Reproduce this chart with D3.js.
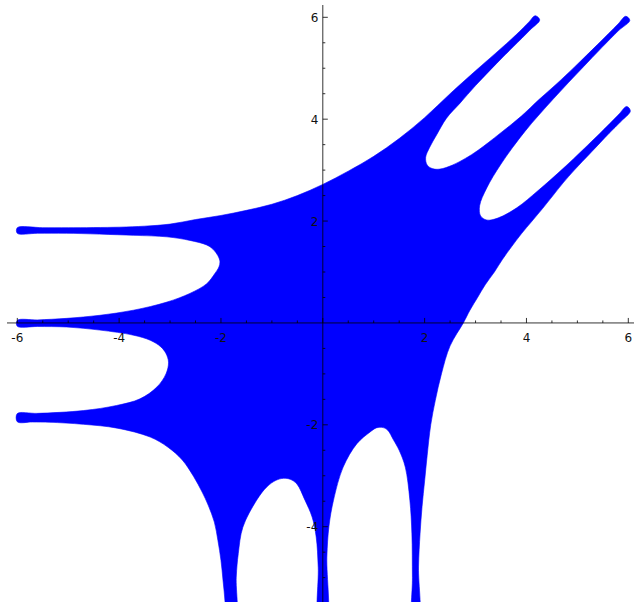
<!DOCTYPE html>
<html>
<head>
<meta charset="utf-8">
<script src="https://cdn.jsdelivr.net/npm/d3@7"></script>
<style>
  html, body { margin: 0; padding: 0; background: #ffffff; }
  svg { display: block; }
</style>
</head>
<body>
<svg id="chart" width="638" height="602"></svg>
<script>
// Tick labels on the two axes (0 is not labelled)
const xTickValues = [-6, -4, -2, 2, 4, 6];
const yTickValues = [-4, -2, 2, 4, 6];

// Outline of the filled region, piece by piece, going round it clockwise.
// Upper-left tentacle top -> upper diagonal tip
const topEdge = [
  [-6.00, 1.87], [-5.50, 1.87], [-5.00, 1.87], [-4.00, 1.88], [-3.50, 1.90],
  [-3.00, 1.94], [-2.50, 2.03], [-2.00, 2.11], [-1.50, 2.21], [-1.00, 2.33],
  [-0.50, 2.50], [0.00, 2.72], [0.50, 2.98], [1.00, 3.27], [1.50, 3.62],
  [2.00, 4.03], [2.50, 4.50], [3.00, 4.95], [3.40, 5.30], [3.80, 5.66],
  [4.05, 5.91], [4.17, 6.03]
];
// Gap between the upper and middle diagonal tentacles
const upperFork = [
  [4.26, 5.95], [4.07, 5.75], [3.74, 5.42], [3.42, 5.10], [3.00, 4.66],
  [2.70, 4.32], [2.43, 4.02], [2.24, 3.70], [2.10, 3.45], [2.02, 3.25],
  [2.05, 3.10], [2.15, 3.03], [2.30, 3.02], [2.55, 3.10], [2.80, 3.23],
  [3.05, 3.39], [3.48, 3.72], [3.90, 4.06], [4.24, 4.38], [4.60, 4.70],
  [4.95, 5.03], [5.40, 5.47], [5.80, 5.87], [5.95, 6.02]
];
// Gap between the middle and lower diagonal tentacles
const lowerFork = [
  [6.03, 5.94], [5.80, 5.73], [5.12, 5.03], [4.53, 4.40], [3.97, 3.76],
  [3.50, 3.12], [3.22, 2.65], [3.08, 2.30], [3.10, 2.10], [3.22, 2.02],
  [3.44, 2.06], [3.81, 2.26], [4.23, 2.60], [4.75, 3.06], [5.44, 3.72],
  [5.80, 4.08], [5.97, 4.25]
];
// Lower diagonal tip -> right vertical tentacle
const rightEdge = [
  [6.04, 4.16], [5.85, 3.95], [5.62, 3.72], [5.28, 3.36], [4.94, 3.00],
  [4.72, 2.75], [4.52, 2.50], [4.32, 2.25], [4.11, 2.00], [3.90, 1.75],
  [3.71, 1.50], [3.53, 1.25], [3.37, 1.00], [3.19, 0.75], [3.04, 0.50],
  [2.89, 0.25], [2.76, 0.00], [2.50, -0.45], [2.33, -1.00], [2.21, -1.52],
  [2.12, -2.00], [2.05, -2.60], [2.00, -3.10], [1.95, -3.60], [1.91, -4.14],
  [1.88, -4.79], [1.88, -5.90]
];
// Arch between the right and middle vertical tentacles
const rightArch = [
  [1.77, -5.90], [1.76, -5.00], [1.75, -4.14], [1.71, -3.48], [1.62, -2.83],
  [1.50, -2.50], [1.39, -2.30], [1.27, -2.10], [1.16, -2.05], [1.05, -2.06],
  [0.93, -2.14], [0.67, -2.37], [0.40, -2.83], [0.21, -3.48], [0.12, -4.00],
  [0.08, -4.60], [0.07, -5.90]
];
// Arch between the middle and left vertical tentacles
const leftArch = [
  [-0.07, -5.90], [-0.09, -4.80], [-0.13, -4.20], [-0.21, -3.81], [-0.35, -3.48],
  [-0.51, -3.16], [-0.64, -3.07], [-0.77, -3.05], [-0.92, -3.09], [-1.10, -3.22],
  [-1.30, -3.48], [-1.57, -4.01], [-1.66, -4.53], [-1.70, -4.99], [-1.72, -5.90]
];
// Left vertical tentacle -> lower-left horizontal tip
const lowerLeftEdge = [
  [-1.91, -5.90], [-1.92, -5.48], [-1.96, -5.05], [-2.00, -4.66], [-2.06, -4.27],
  [-2.13, -3.91], [-2.25, -3.58], [-2.37, -3.32], [-2.54, -3.01], [-2.76, -2.69],
  [-3.04, -2.44], [-3.39, -2.24], [-4.04, -2.065], [-4.70, -1.99], [-5.36, -1.95],
  [-5.70, -1.945], [-6.00, -1.94]
];
// Gap between the lower and middle horizontal tentacles
const lowerLeftGap = [
  [-6.00, -1.78], [-5.60, -1.775], [-4.70, -1.72], [-4.05, -1.62], [-3.59, -1.49],
  [-3.26, -1.26], [-3.08, -1.00], [-3.03, -0.77], [-3.08, -0.60], [-3.18, -0.47],
  [-3.39, -0.34], [-3.72, -0.24], [-4.38, -0.14], [-5.03, -0.08], [-5.60, -0.07],
  [-6.00, -0.065]
];
// Gap between the middle and upper horizontal tentacles
const upperLeftGap = [
  [-6.00, 0.05], [-5.60, 0.06], [-5.03, 0.09], [-4.38, 0.15], [-3.72, 0.25],
  [-3.06, 0.41], [-2.61, 0.58], [-2.28, 0.77], [-2.12, 0.97], [-2.04, 1.10],
  [-2.02, 1.20], [-2.06, 1.32], [-2.16, 1.45], [-2.28, 1.53], [-2.61, 1.62],
  [-3.06, 1.69], [-3.72, 1.72], [-5.03, 1.76], [-5.60, 1.76], [-6.00, 1.76]
];

const outline = [].concat(topEdge, upperFork, lowerFork, rightEdge, rightArch,
  leftArch, lowerLeftEdge, lowerLeftGap, upperLeftGap);

const svg = d3.select("#chart");
const H = 602;

const x = d3.scaleLinear().domain([-6, 6]).range([17.3, 628.3]);
const y = d3.scaleLinear().domain([-4, 6]).range([526.7, 17.3]);

// Filled region
const outlinePath = d3.line()
  .x(d => x(d[0]))
  .y(d => y(d[1]))
  .curve(d3.curveCatmullRomClosed.alpha(0.5));

svg.append("path")
  .attr("d", outlinePath(outline))
  .attr("fill", "#0000ff")
  .attr("stroke", "#0000ff")
  .attr("stroke-width", 0.6)
  .attr("stroke-linejoin", "round");

// Axes through the origin
const axes = svg.append("g").attr("stroke", "#000").attr("stroke-width", 0.8).attr("fill", "none");
const x0 = x(0), y0 = y(0);
axes.append("line").attr("x1", 7).attr("x2", 634).attr("y1", y0).attr("y2", y0);
axes.append("line").attr("x1", x0).attr("x2", x0).attr("y1", 5).attr("y2", H);

const minorX = d3.range(-12, 13).map(k => k * 0.5).filter(v => v % 2 !== 0);
const minorY = d3.range(-11, 13).map(k => k * 0.5).filter(v => v % 2 !== 0);

// x ticks point up from the axis
axes.selectAll(".xmaj").data(xTickValues.concat([0])).enter().append("line")
  .attr("x1", d => x(d)).attr("x2", d => x(d)).attr("y1", y0).attr("y2", y0 - 5);
axes.selectAll(".xmin").data(minorX).enter().append("line")
  .attr("x1", d => x(d)).attr("x2", d => x(d)).attr("y1", y0).attr("y2", y0 - 2.5);
// y ticks point right from the axis
axes.selectAll(".ymaj").data(yTickValues).enter().append("line")
  .attr("y1", d => y(d)).attr("y2", d => y(d)).attr("x1", x0).attr("x2", x0 + 5);
axes.selectAll(".ymin").data(minorY).enter().append("line")
  .attr("y1", d => y(d)).attr("y2", d => y(d)).attr("x1", x0).attr("x2", x0 + 2.5);

const labels = svg.append("g")
  .attr("font-family", "DejaVu Sans, sans-serif")
  .attr("font-size", 12)
  .attr("fill", "#111");

labels.selectAll(".xl").data(xTickValues).enter().append("text")
  .attr("x", d => x(d)).attr("y", y0 + 19)
  .attr("text-anchor", "middle")
  .text(d => String(d));

labels.selectAll(".yl").data(yTickValues).enter().append("text")
  .attr("x", x0 - 4.5).attr("y", d => y(d) + 4.5)
  .attr("text-anchor", "end")
  .text(d => String(d));
</script>
</body>
</html>
